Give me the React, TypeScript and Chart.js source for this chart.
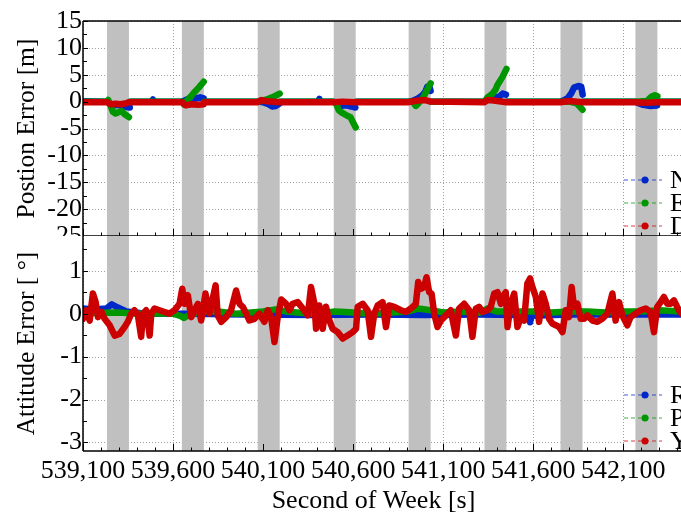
import React, { useEffect, useRef } from "react";
import { Chart, registerables } from "chart.js";
Chart.register(...registerables);

const FONT = "'Liberation Serif', 'Times New Roman', Times, serif";
const BLUE = "rgb(0,40,200)";
const GREEN = "rgb(0,150,0)";
const RED = "rgb(204,0,0)";
const BLUE_L = "rgba(0,40,200,0.5)";
const GREEN_L = "rgba(0,150,0,0.5)";
const RED_L = "rgba(204,0,0,0.5)";

// GNSS outage windows (s)
const outageStart = [539233, 539649, 540070, 540492, 540908, 541329, 541751, 542167];
const outageEnd = [539355, 539771, 540192, 540614, 541030, 541451, 541873, 542289];

const xMin = 539100;
const xMax = 542420;
const xMajorTicks = [539100, 539600, 540100, 540600, 541100, 541600, 542100];
const posTicks = [-25, -20, -15, -10, -5, 0, 5, 10, 15];
const attTicks = [-3, -2, -1, 0, 1];

// Position error N (m)
const posNT = [539100, 539233, 539250, 539275, 539300, 539330, 539360, 539362, 539364, 539480, 539488, 539496, 539649, 539665, 539690, 539720, 539750, 539770, 539773, 539775, 540070, 540100, 540130, 540150, 540170, 540190, 540193, 540195, 540404, 540412, 540420, 540492, 540505, 540530, 540560, 540590, 540612, 540615, 540617, 540908, 540935, 540960, 540985, 541000, 541012, 541022, 541030, 541033, 541035, 541329, 541345, 541380, 541410, 541430, 541448, 541451, 541453, 541751, 541765, 541789, 541810, 541826, 541850, 541866, 541874, 541876, 541878, 542167, 542185, 542210, 542250, 542287, 542290, 542292, 542420];
const posNV = [0.05, 0, -0.4, -0.7, -0.6, -0.9, -1.1, null, 0, 0, 0.4, 0, 0, 0.2, 0.6, 0.5, 0.8, 0.6, null, 0, 0, -0.1, -0.5, -0.9, -0.8, -0.4, null, 0, 0, 0.5, 0, 0, -0.3, -0.8, -0.7, -0.9, -1.1, null, 0, 0, 0.2, 0.6, 1.2, 1.8, 2.8, 2.9, 2.0, null, 0, 0, 0.3, 0.7, 0.9, 1.5, 1.3, null, 0, 0, 0.2, 0.6, 1.5, 2.6, 2.9, 2.8, 1.3, null, 0, 0, -0.3, -0.6, -0.8, -0.7, null, 0, 0];

// Position error E (m)
const posET = [539100, 539233, 539240, 539255, 539266, 539280, 539295, 539312, 539330, 539355, 539358, 539360, 539649, 539660, 539680, 539700, 539720, 539745, 539770, 539773, 539775, 540070, 540085, 540120, 540150, 540175, 540192, 540195, 540197, 540492, 540505, 540520, 540535, 540560, 540585, 540600, 540614, 540617, 540619, 540908, 540930, 540948, 540965, 540985, 541000, 541015, 541030, 541033, 541035, 541329, 541346, 541374, 541390, 541401, 541429, 541451, 541454, 541456, 541751, 541800, 541840, 541860, 541873, 541876, 541878, 542167, 542230, 542255, 542275, 542289, 542292, 542294, 542420];
const posEV = [0, 0, 0.3, -0.9, -1.9, -2.2, -2.0, -1.7, -2.3, -2.9, null, 0, 0, -0.5, 0.3, 1.0, 1.8, 2.7, 3.7, null, 0, 0, 0.1, 0.4, 0.8, 1.2, 1.5, null, 0, 0, -0.3, -1.6, -2.0, -2.5, -2.9, -3.9, -4.8, null, 0, 0, 0, -0.8, -0.2, 0.6, 1.5, 2.5, 3.4, null, 0, 0, 0.8, 1.5, 2.2, 3.1, 4.6, 6.1, null, 0, 0, 0, -0.3, -1.0, -1.5, null, 0, 0, 0.1, 0.9, 1.2, 1.0, null, 0, 0];

// Position error D (m)
const posDT = [539100, 539233, 539255, 539280, 539310, 539340, 539360, 539649, 539670, 539700, 539740, 539770, 539775, 540070, 540090, 540110, 540192, 540492, 540540, 540614, 540908, 540960, 541000, 541030, 541329, 541345, 541380, 541451, 541751, 541800, 541873, 542167, 542220, 542289, 542420];
const posDV = [-0.1, -0.1, -0.5, -0.4, -0.5, -0.3, -0.1, -0.1, -0.7, -0.5, -0.6, -0.5, -0.1, -0.1, 0.3, 0.1, -0.1, -0.1, 0, -0.1, -0.1, 0.2, 0.3, 0, -0.1, 0.3, 0.2, -0.1, -0.1, 0.1, -0.1, -0.1, -0.2, -0.1, -0.1];

// Attitude error Roll (deg)
const attRT = [539100, 539160, 539230, 539260, 539290, 539340, 539450, 539700, 540000, 540400, 540700, 541000, 541300, 541500, 541575, 541582, 541590, 541800, 542100, 542420];
const attRV = [0.12, 0.1, 0.12, 0.22, 0.15, 0.05, 0.0, 0.0, -0.02, -0.03, -0.02, -0.03, -0.02, -0.03, -0.05, -0.2, -0.05, -0.02, -0.02, -0.02];

// Attitude error Pitch (deg)
const attPT = [539100, 539200, 539300, 539400, 539500, 539600, 539640, 539660, 539700, 539780, 539850, 539950, 540100, 540170, 540230, 540300, 540400, 540500, 540600, 540700, 540800, 540900, 540960, 541030, 541100, 541200, 541300, 541345, 541400, 541500, 541600, 541700, 541800, 541900, 542000, 542100, 542200, 542300, 542420];
const attPV = [0.0, 0.02, 0.03, 0.0, 0.01, 0.0, -0.05, -0.1, 0.0, 0.05, 0.05, 0.0, 0.05, 0.1, 0.05, 0.02, 0.0, 0.05, 0.03, 0.0, 0.02, 0.05, 0.12, 0.08, 0.03, 0.05, 0.02, 0.12, 0.05, 0.05, 0.05, 0.03, 0.05, 0.05, 0.03, 0.05, 0.05, 0.08, 0.05];

// Attitude error Yaw (deg)
const attYT = [539100, 539118, 539137, 539155, 539170, 539183, 539202, 539220, 539248, 539276, 539303, 539331, 539349, 539368, 539386, 539405, 539423, 539433, 539451, 539470, 539479, 539497, 539525, 539553, 539580, 539608, 539636, 539651, 539664, 539682, 539701, 539719, 539738, 539756, 539780, 539802, 539836, 539848, 539867, 539895, 539922, 539950, 539969, 539987, 540006, 540024, 540052, 540079, 540107, 540126, 540144, 540163, 540181, 540200, 540227, 540246, 540264, 540292, 540320, 540348, 540366, 540385, 540394, 540412, 540431, 540449, 540468, 540486, 540514, 540542, 540569, 540597, 540616, 540625, 540653, 540680, 540699, 540717, 540736, 540763, 540782, 540800, 540828, 540865, 540893, 540920, 540948, 540961, 540976, 540994, 541007, 541022, 541035, 541050, 541068, 541087, 541115, 541142, 541151, 541170, 541188, 541216, 541244, 541262, 541281, 541299, 541318, 541346, 541364, 541383, 541401, 541420, 541429, 541447, 541457, 541475, 541494, 541512, 541531, 541549, 541567, 541582, 541595, 541614, 541632, 541651, 541669, 541688, 541706, 541725, 541743, 541762, 541780, 541798, 541813, 541826, 541845, 541863, 541882, 541900, 541928, 541956, 541983, 542011, 542039, 542057, 542076, 542094, 542122, 542140, 542168, 542196, 542224, 542251, 542270, 542288, 542307, 542325, 542344, 542362, 542381, 542408, 542423];
const attYV = [-0.12, 0.08, -0.16, 0.47, 0.27, -0.08, 0.04, -0.12, -0.27, -0.51, -0.47, -0.31, -0.19, 0, 0.08, -0.04, -0.54, 0, 0.08, -0.51, 0, 0.12, 0.08, 0.04, 0, 0.08, 0.23, 0.58, 0.23, 0.43, -0.08, 0.08, 0.23, -0.16, 0.47, 0, 0.66, -0.04, -0.19, -0.08, 0.08, 0.54, 0.23, 0.16, 0, -0.16, -0.12, 0, -0.19, 0.08, -0.08, -0.66, -0.08, 0.33, 0.23, 0.08, 0.23, 0.27, 0.12, -0.04, 0.62, 0.23, -0.35, 0.19, -0.35, 0.16, -0.16, -0.35, -0.43, -0.58, -0.51, -0.43, -0.35, 0.16, 0.23, 0.08, -0.54, 0, 0.19, 0.27, -0.31, 0.19, 0.16, 0.08, 0.04, 0.12, 0.23, 0.74, 0.58, 0.62, 0.85, 0.5, 0.47, 0, -0.31, -0.16, -0.04, 0.08, -0.12, -0.51, 0.12, 0.23, 0.08, -0.54, 0.12, 0.16, 0.04, 0.08, 0.16, 0.47, 0.5, 0.23, 0.39, 0.5, -0.31, 0.23, 0.47, -0.31, -0.08, -0.16, 0.7, 0.82, 0.62, 0.39, -0.19, 0.47, 0.23, -0.12, -0.23, -0.27, -0.31, -0.43, 0.08, -0.08, 0.62, 0.16, 0.23, -0.12, -0.12, -0.04, -0.16, -0.19, -0.12, 0, 0.47, -0.16, 0.27, -0.04, -0.27, -0.08, 0, 0.08, 0.12, 0.04, -0.43, 0.16, 0.27, 0.39, 0.23, 0.23, 0.31, 0.08, 0];

const toXY = (ts: number[], vs: (number | null)[]) => ts.map((t, i) => ({ x: t, y: vs[i] }));

const lineStyle = {
  borderWidth: 6.5,
  borderCapStyle: "round",
  borderJoinStyle: "round",
  pointRadius: 0,
  fill: false,
  tension: 0,
};

const panelPlugin = {
  id: "panel",
  beforeDraw(chart: any, _a: any, o: any) {
    if (o.whiteBg) {
      const ctx = chart.ctx;
      ctx.save();
      ctx.fillStyle = "#fff";
      ctx.fillRect(0, 0, chart.width, chart.height);
      ctx.restore();
    }
  },
  beforeDatasetsDraw(chart: any, _a: any, o: any) {
    const { ctx, chartArea: a, scales } = chart;
    const x = scales.x, y = scales.y;
    ctx.save();
    ctx.strokeStyle = "rgba(150,150,150,0.9)";
    ctx.lineWidth = 1;
    ctx.setLineDash([1, 2]);
    ctx.beginPath();
    for (const v of xMajorTicks) {
      const px = Math.round(x.getPixelForValue(v)) + 0.5;
      ctx.moveTo(px, a.top);
      ctx.lineTo(px, a.bottom);
    }
    for (const t of y.ticks) {
      const py = Math.round(y.getPixelForValue(t.value)) + 0.5;
      ctx.moveTo(a.left, py);
      ctx.lineTo(a.right, py);
    }
    ctx.stroke();
    ctx.setLineDash([]);
    // legend background
    ctx.fillStyle = "#fff";
    ctx.fillRect(624, a.bottom - 69, a.right - 624, 69);
    // outage bands
    ctx.fillStyle = "rgb(192,192,192)";
    outageStart.forEach((s, i) => {
      const x0 = x.getPixelForValue(s);
      const x1 = x.getPixelForValue(outageEnd[i]);
      ctx.fillRect(x0, a.top, x1 - x0, a.bottom - a.top);
    });
    ctx.restore();
  },
  afterDatasetsDraw(chart: any, _a: any, o: any) {
    const { ctx, chartArea: a, scales } = chart;
    const x = scales.x, y = scales.y;
    ctx.save();
    ctx.strokeStyle = "#000";
    ctx.lineWidth = 1;
    ctx.beginPath();
    // x ticks (inward)
    for (let v = xMin; v <= xMax; v += 100) {
      const px = Math.round(x.getPixelForValue(v)) + 0.5;
      const major = xMajorTicks.includes(v);
      ctx.moveTo(px, a.bottom);
      ctx.lineTo(px, a.bottom - (major ? 7 : 3.5));
    }
    // y ticks (inward)
    const yt = y.ticks.map((t: any) => t.value);
    const step = yt[1] - yt[0];
    for (let i = 0; i < yt.length; i++) {
      const py = Math.round(y.getPixelForValue(yt[i])) + 0.5;
      ctx.moveTo(a.left, py);
      ctx.lineTo(a.left + 5, py);
      const mv = yt[i] + step / 2;
      if (mv < y.max) {
        const pm = Math.round(y.getPixelForValue(mv)) + 0.5;
        ctx.moveTo(a.left, pm);
        ctx.lineTo(a.left + 4, pm);
      }
    }
    ctx.stroke();
    // frame
    ctx.lineWidth = 1.5;
    ctx.beginPath();
    ctx.moveTo(a.left, a.top);
    ctx.lineTo(a.left, a.bottom);
    ctx.moveTo(a.left, a.bottom);
    ctx.lineTo(a.right, a.bottom);
    if (o.topLine) {
      ctx.moveTo(a.left, a.top);
      ctx.lineTo(a.right, a.top);
    }
    ctx.stroke();
    // legend
    const rows = [56, 33, 10];
    chart.data.datasets.forEach((ds: any, i: number) => {
      const ry = a.bottom - rows[i];
      ctx.strokeStyle = ds.legendLine;
      ctx.lineWidth = 1.5;
      ctx.setLineDash([4, 3]);
      ctx.beginPath();
      ctx.moveTo(624, ry);
      ctx.lineTo(662, ry);
      ctx.stroke();
      ctx.setLineDash([]);
      ctx.fillStyle = ds.borderColor;
      ctx.beginPath();
      ctx.arc(645, ry, 3.5, 0, Math.PI * 2);
      ctx.fill();
      ctx.fillStyle = "#000";
      ctx.font = `26px ${FONT}`;
      ctx.textAlign = "left";
      ctx.textBaseline = "middle";
      ctx.fillText(ds.label, 670, ry + 1);
    });
    ctx.restore();
  },
  afterDraw(chart: any, _a: any, o: any) {
    if (o.xTitle) {
      const ctx = chart.ctx;
      ctx.save();
      ctx.fillStyle = "#000";
      ctx.font = `26px ${FONT}`;
      ctx.textAlign = "center";
      ctx.textBaseline = "alphabetic";
      ctx.fillText(o.xTitle, 373.5, 272);
      ctx.restore();
    }
  },
};

function yScale(min: number, max: number, ticks: number[], title: string) {
  return {
    type: "linear",
    min,
    max,
    afterBuildTicks(s: any) {
      s.ticks = ticks.map((v) => ({ value: v }));
    },
    afterFit(s: any) {
      s.width = 83;
      s.paddingTop = 0;
      s.paddingBottom = 0;
    },
    grid: { display: false, drawTicks: false },
    border: { display: false },
    ticks: { color: "#000", padding: 1, autoSkip: false, font: { family: FONT, size: 26 } },
    title: {
      display: true,
      text: title,
      color: "#000",
      font: { family: FONT, size: 25.5, lineHeight: 1 },
      padding: { top: 15, bottom: 0 },
    },
  };
}

function xScale(showLabels: boolean) {
  return {
    type: "linear",
    min: xMin,
    max: xMax,
    afterBuildTicks(s: any) {
      s.ticks = xMajorTicks.map((v) => ({ value: v }));
    },
    afterFit(s: any) {
      s.height = showLabels ? 62 : 0;
      s.paddingLeft = 0;
      s.paddingRight = 0;
    },
    grid: { display: false, drawTicks: false },
    border: { display: false },
    ticks: {
      display: showLabels,
      color: "#000",
      padding: 5,
      maxRotation: 0,
      autoSkip: false,
      font: { family: FONT, size: 26 },
      callback: (v: any) => Number(v).toLocaleString("en-US"),
    },
  };
}

export default function App() {
  const topRef = useRef<HTMLCanvasElement>(null);
  const botRef = useRef<HTMLCanvasElement>(null);
  useEffect(() => {
    document.body.style.margin = "0";
    const top = new Chart(topRef.current as HTMLCanvasElement, {
      type: "line",
      data: {
        datasets: [
          { label: "N", data: toXY(posNT, posNV), borderColor: BLUE, legendLine: BLUE_L, order: 3, ...lineStyle },
          { label: "E", data: toXY(posET, posEV), borderColor: GREEN, legendLine: GREEN_L, order: 2, ...lineStyle },
          { label: "D", data: toXY(posDT, posDV), borderColor: RED, legendLine: RED_L, order: 1, ...lineStyle },
        ],
      } as any,
      options: {
        responsive: false,
        animation: false,
        devicePixelRatio: 1,
        layout: { padding: { top: 21, bottom: 26, left: 0, right: 0 } },
        plugins: { legend: { display: false }, tooltip: { enabled: false }, panel: { topLine: true } },
        scales: { x: xScale(false), y: yScale(-25, 15, posTicks, "Postion Error [m]") },
      } as any,
      plugins: [panelPlugin as any],
    });
    const bot = new Chart(botRef.current as HTMLCanvasElement, {
      type: "line",
      data: {
        datasets: [
          { label: "R", data: toXY(attRT, attRV), borderColor: BLUE, legendLine: BLUE_L, order: 3, ...lineStyle },
          { label: "P", data: toXY(attPT, attPV), borderColor: GREEN, legendLine: GREEN_L, order: 2, ...lineStyle },
          { label: "Y", data: toXY(attYT, attYV), borderColor: RED, legendLine: RED_L, order: 1, ...lineStyle },
        ],
      } as any,
      options: {
        responsive: false,
        animation: false,
        devicePixelRatio: 1,
        layout: { padding: { top: 0, bottom: 0, left: 0, right: 0 } },
        plugins: {
          legend: { display: false },
          tooltip: { enabled: false },
          panel: { whiteBg: true, xTitle: "Second of Week [s]" },
        },
        scales: { x: xScale(true), y: yScale(-3.2, 1.81, attTicks, "Attitude Error [ °]") },
      } as any,
      plugins: [panelPlugin as any],
    });
    return () => {
      top.destroy();
      bot.destroy();
    };
  }, []);
  return (
    <div style={{ position: "fixed", left: 0, top: 0, width: 681, height: 513, background: "#fff", overflow: "hidden" }}>
      <canvas ref={topRef} width={681} height={262} style={{ position: "absolute", left: 0, top: 0, width: 681, height: 262 }} />
      <canvas ref={botRef} width={681} height={277} style={{ position: "absolute", left: 0, top: 236, width: 681, height: 277 }} />
    </div>
  );
}
